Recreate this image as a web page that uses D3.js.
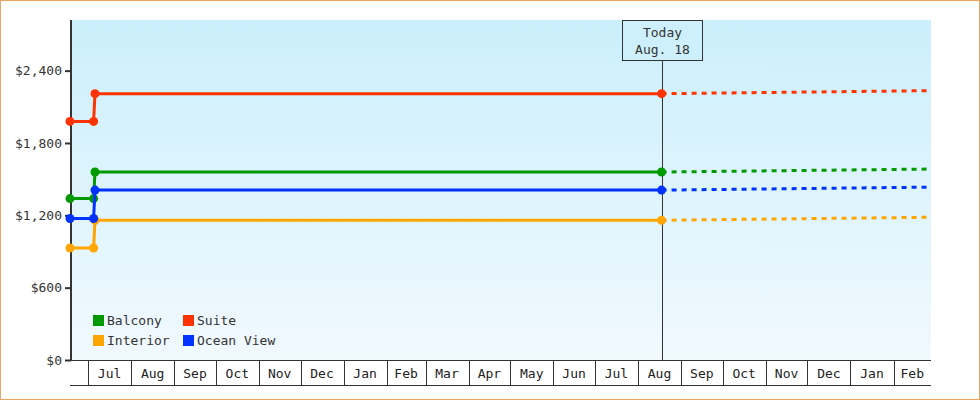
<!DOCTYPE html>
<html>
<head>
<meta charset="utf-8">
<script src="https://cdn.jsdelivr.net/npm/d3@7"></script>
<style>
  html, body { margin: 0; padding: 0; background: #fff; }
  svg { display: block; font-family: "DejaVu Sans Mono", monospace; }
</style>
</head>
<body>
<svg id="chart" width="980" height="400"></svg>
<script>
(function(){
    // data
    var seriesNames = ["Balcony", "Interior", "Suite", "Ocean View"],
        seriesColors = ["#009900", "#ffa500", "#ff3300", "#0033ff"],
        pointDates = ["2010-06-18", "2010-07-05", "2010-07-06", "2011-08-18"],
        balconyPrices = [1339, 1339, 1559, 1559],
        interiorPrices = [929, 929, 1159, 1159],
        suitePrices = [1979, 1979, 2209, 2209],
        oceanViewPrices = [1174, 1174, 1409, 1409],
        projectionEndDate = "2012-02-28",
        projectionEndPrices = [1584, 1184, 2234, 1434],
        yTicks = [0, 600, 1200, 1800, 2400],
        yMax = 2820,
        domainStart = "2010-06-18",
        domainEnd = "2012-02-28",
        todayDate = "2011-08-18",
        todayLabel = ["Today", "Aug. 18"];

    var allPrices = [balconyPrices, interiorPrices, suitePrices, oceanViewPrices];

    var parse = d3.timeParse("%Y-%m-%d"),
        left = 70, right = 931, top = 20, bottom = 360, bandBottom = 385;

    var svg = d3.select("#chart");

    var x = d3.scaleTime()
        .domain([parse(domainStart), parse(domainEnd)])
        .range([left, right]);

    var y = d3.scaleLinear()
        .domain([0, yMax])
        .range([bottom, top]);

    // outer frame
    svg.append("rect")
        .attr("x", 0.5).attr("y", 0.5)
        .attr("width", 979).attr("height", 399)
        .attr("fill", "#fff")
        .attr("stroke", "#e8a862");

    var defs = svg.append("defs");
    var grad = defs.append("linearGradient")
        .attr("id", "bg").attr("x1", 0).attr("y1", 0).attr("x2", 0).attr("y2", 1);
    grad.append("stop").attr("offset", "0%").attr("stop-color", "#cbeffc");
    grad.append("stop").attr("offset", "100%").attr("stop-color", "#f1f9fe");

    svg.append("rect")
        .attr("x", left).attr("y", top)
        .attr("width", right - left).attr("height", bottom - top)
        .attr("fill", "url(#bg)");

    // month band axis
    var months = d3.timeMonth.range(d3.timeMonth.ceil(x.domain()[0]), x.domain()[1]);
    var band = svg.append("g").attr("stroke", "#333").attr("shape-rendering", "crispEdges");
    band.append("line")
        .attr("x1", left).attr("x2", right)
        .attr("y1", bottom + 0.5).attr("y2", bottom + 0.5);
    band.append("line")
        .attr("x1", left).attr("x2", right)
        .attr("y1", bandBottom + 0.5).attr("y2", bandBottom + 0.5);
    band.selectAll("line.mb")
        .data(months)
        .enter().append("line")
        .attr("class", "mb")
        .attr("x1", function(d){ return Math.round(x(d)) + 0.5; })
        .attr("x2", function(d){ return Math.round(x(d)) + 0.5; })
        .attr("y1", bottom).attr("y2", bandBottom);

    svg.append("g").selectAll("text")
        .data(months)
        .enter().append("text")
        .attr("x", function(d){
            var next = d3.timeMonth.offset(d, 1);
            var end = next > x.domain()[1] ? x.domain()[1] : next;
            return (x(d) + x(end)) / 2;
        })
        .attr("y", 378)
        .attr("text-anchor", "middle")
        .attr("font-size", 13)
        .attr("fill", "#222")
        .text(d3.timeFormat("%b"));

    // y axis
    var yAxis = svg.append("g")
        .attr("transform", "translate(" + (left + 1) + ",0)")
        .call(d3.axisLeft(y).tickValues(yTicks).tickSize(6).tickSizeOuter(0)
            .tickFormat(function(d){ return "$" + d3.format(",")(d); }));
    yAxis.select(".domain").remove();
    yAxis.selectAll(".tick line").attr("stroke", "#333").attr("stroke-width", 2);
    yAxis.selectAll(".tick text")
        .attr("font-family", "DejaVu Sans Mono, monospace")
        .attr("font-size", 13)
        .attr("fill", "#333")
        .attr("x", -9);
    svg.append("line")
        .attr("x1", left + 1).attr("x2", left + 1)
        .attr("y1", top).attr("y2", bottom + 1)
        .attr("stroke", "#333").attr("stroke-width", 2);

    // today marker
    var tx = Math.round(x(parse(todayDate))) + 0.5;
    svg.append("line")
        .attr("x1", tx).attr("x2", tx)
        .attr("y1", 60).attr("y2", bottom)
        .attr("stroke", "#333");
    svg.append("rect")
        .attr("x", tx - 40).attr("y", 20.5)
        .attr("width", 80).attr("height", 40)
        .attr("fill", "#cdf0fc")
        .attr("stroke", "#333");
    svg.selectAll("text.today")
        .data(todayLabel)
        .enter().append("text")
        .attr("class", "today")
        .attr("x", tx)
        .attr("y", function(d, i){ return 37 + i * 17; })
        .attr("text-anchor", "middle")
        .attr("font-size", 13)
        .attr("fill", "#333")
        .text(function(d){ return d; });

    var line = d3.line()
        .x(function(d){ return x(d.date); })
        .y(function(d){ return y(d.value); });

    var drawOrder = [0, 1, 2, 3];
    drawOrder.forEach(function(s){
        var pts = pointDates.map(function(dt, i){
            return {date: parse(dt), value: allPrices[s][i]};
        });
        var proj = [pts[pts.length - 1], {date: parse(projectionEndDate), value: projectionEndPrices[s]}];

        svg.append("path")
            .datum(proj)
            .attr("d", line)
            .attr("fill", "none")
            .attr("stroke", seriesColors[s])
            .attr("stroke-width", 3)
            .attr("stroke-dasharray", "5,5");

        svg.append("path")
            .datum(pts)
            .attr("d", line)
            .attr("fill", "none")
            .attr("stroke", seriesColors[s])
            .attr("stroke-width", 3);

        svg.append("g").selectAll("circle")
            .data(pts)
            .enter().append("circle")
            .attr("cx", function(d){ return x(d.date); })
            .attr("cy", function(d){ return y(d.value); })
            .attr("r", 4.5)
            .attr("fill", seriesColors[s]);
    });

    // legend
    var legend = svg.append("g").attr("transform", "translate(93,315)");
    var item = legend.selectAll("g")
        .data(seriesNames)
        .enter().append("g")
        .attr("transform", function(d, i){
            return "translate(" + ((i % 2 === 0) ? 0 : 90) + "," + (i < 2 ? 0 : 20) + ")";
        });
    // legend order: Balcony, Suite / Interior, Ocean View
    item.attr("transform", function(d, i){
        var col = (i === 0 || i === 1) ? 0 : 1,
            row = (i === 0 || i === 2) ? 0 : 1;
        return "translate(" + (col * 90) + "," + (row * 20) + ")";
    });
    item.append("rect")
        .attr("width", 11).attr("height", 11)
        .attr("fill", function(d, i){ return seriesColors[i]; });
    item.append("text")
        .attr("x", 14).attr("y", 10)
        .attr("font-size", 13)
        .attr("fill", "#333")
        .text(function(d){ return d; });
})();
</script>
</body>
</html>
